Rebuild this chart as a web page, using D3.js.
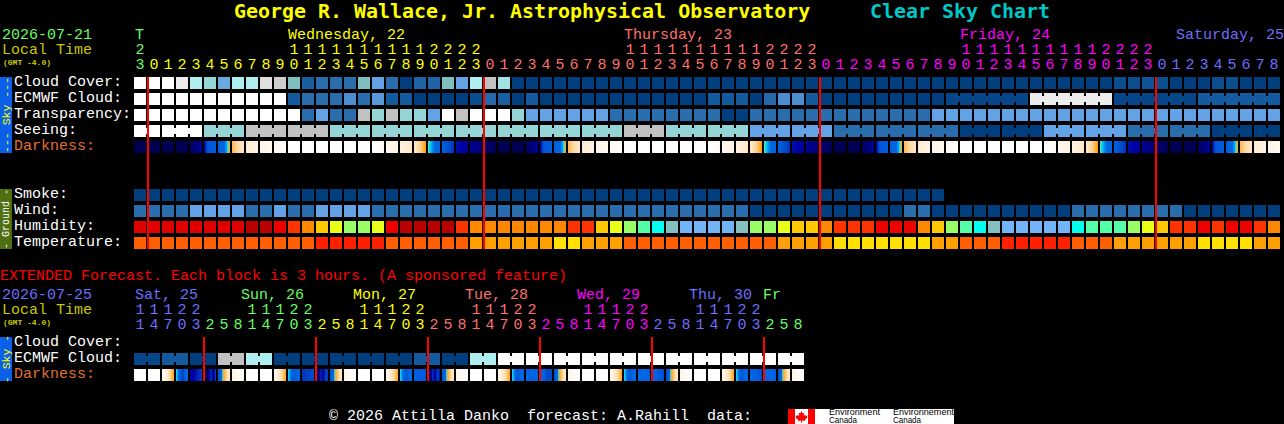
<!DOCTYPE html>
<html><head><meta charset="utf-8">
<script src="https://cdn.jsdelivr.net/npm/d3@7/dist/d3.min.js"></script>
<style>
html,body{margin:0;padding:0;background:#000;overflow:hidden}
svg{display:block}
text{font-family:"Liberation Mono",monospace;font-size:15px;white-space:pre}
</style></head><body><svg id="c" width="1284" height="424"></svg>
<script>
// ---------- data ----------
const hours=[23,0,1,2,3,4,5,6,7,8,9,10,11,12,13,14,15,16,17,18,19,20,21,22,23,0,1,2,3,4,5,6,7,8,9,10,11,12,13,14,15,16,17,18,19,20,21,22,23,0,1,2,3,4,5,6,7,8,9,10,11,12,13,14,15,16,17,18,19,20,21,22,23,0,1,2,3,4,5,6,7,8];
const extHours=[11,14,17,20,23,2,5,8,11,14,17,20,23,2,5,8,11,14,17,20,23,2,5,8,11,14,17,20,23,2,5,8,11,14,17,20,23,2,5,8,11,14,17,20,23,2,5,8];
const dayLabels=[["Wednesday, 22",288,1],["Thursday, 23",624,2],["Friday, 24",960,3],["Saturday, 25",1176,4]];
const extDayLabels=[["Sat, 25",135,0],["Sun, 26",241,1],["Mon, 27",353,2],["Tue, 28",465,3],["Wed, 29",577,4],["Thu, 30",689,5],["Fr",763,6]];
const dayColors=["#66ff66","#ffff00","#ff7070","#ff00ff","#6e6eff"];
const extDayColors=["#6e6eff","#66ff66","#ffff00","#ff7070","#ff00ff","#6e6eff","#66ff66"];

const cloud=[100,100,100,90,70,60,42,70,70,87,83,50,12,20,20,20,50,40,20,0,15,15,50,40,70,80,65,
 0,0,0,0,0,0,0,0,0,0,0,0,0,0,0,0,0,0,0,0,0,0,0,0,0,0,0,0,0,0,0,0,0,0,0,0,0,0,0,0,0,0,0,
 6,6,8,6,0,0,0,6,6,0,0,0];
const ecmwf=[100,100,100,100,100,100,100,100,100,100,100,10,20,20,20,30,20,35,10,10,0,0,0,0,5,18,12,0,10,
 0,0,0,0,0,0,0,0,0,0,0,0,10,10,10,0,18,30,30,10,0,0,0,0,0,0,0,0,0,
 3,3,3,3,3,3,90,90,90,90,90,90,3,3,3,3,3,3,10,10,10,10,10,10];
const ecmwfJoinedStarts=[58,64,70,76];
const transparency=[100,100,100,100,100,100,100,100,100,100,100,100,20,40,20,20,80,60,80,60,60,40,100,80,100,100,100,60,
 40,40,40,40,40,40,20,20,20,20,20,20,20,20,0,0,20,20,20,20,20,20,20,20,20,20,20,20,20,
 40,40,40,40,40,40,40,40,40,40,40,40,40,40,40,40,40,40,40,40,40,40,40,40,40];
const seeingStarts=[0,2,5,8,11,14,17,20,23,26,29,32,35,38,41,44,47,50,53,56,59,62,65,68,71,74,77,80];
const seeingValues=[100,100,60,80,80,60,60,60,60,60,60,60,80,60,60,40,40,20,20,20,0,0,40,40,20,20,0,0];
const smoke=[0,0,0,0,0,0,0,0,0,0,0,0,0,0,0,0,0,0,0,0,0,0,0,0,0,0,0,0,0,0,0,0,0,0,0,0,0,0,0,0,0,0,0,0,0,0,0,0,0,0,0,0,0,0,0,0,0,0];
const wind=[20,20,20,20,40,40,40,40,20,20,40,20,20,40,40,40,40,20,20,20,20,
 20,20,20,20,20,20,20,20,20,20,20,20,20,20,20,20,20,20,20,20,20,20,20,
 0,0,0,0,0,0,0,0,0,0,0,20,20,0,0,0,0,0,0,0,0,0,0,
 20,20,20,20,20,20,20,20,0,0,0,0,0,0,0];
const humidityColors={a:"#e00000",d:"#b80000",e:"#ec0000",r:"#ff3300",o:"#ff8800",y:"#ffc800",l:"#e8ff18",g:"#99ff66",m:"#55ffaa",c:"#00ffee",t:"#85c0c0",b:"#72b4f5"};
const humidity=["a","a","a","a","a","a","a","a","d","d","e","r","o","y","l","g","g","l","e","d","d","d","d","r","o","o","o","o","o","o","o","r","r","y","l","g","m","c","t","b","b","b","b","t","g","g","l","y","y","o","r","r","r","e","e","e","o","y","g","m","c","t","b","b","b","b","b","c","m","m","m","g","l","y","r","r","e","r","e","e","r","o"];
const tempColors={r:"#ff2000",o:"#ff5f00",a:"#ffa000",y:"#ffe000"};
const temperature=["o","o","o","o","o","o","o","o","o","o","o","o","o","r","r","r","r","r","o","o","o","o","o","o","a","a","a","a","a","a","y","y","a","a","a","o","o","o","o","o","o","o","o","o","o","o","a","a","a","a","y","y","y","y","y","y","y","a","a","o","o","o","r","r","r","r","r","o","o","o","a","a","a","a","a","a","y","y","y","y","a","a"];
// darkness: position along the twilight ramp (0 day .. 1 night) across each block
const darkness=[[1,1],[1,1],[1,1],[1,1],[.98,.85],[.8,.6,.58,.56],[.55,.365],[.34,.24],[.22,.14],[.14,.08],[.08,.02],
 [0,0],[0,0],[0,0],[0,0],[0,0],[0,0],[0,.08],[.1,.16],[.16,.24],[.24,.37],[.385,.5],[.55,.72],[.78,.82],[.85,.92],[.94,.98],[1,1],[1,1],
 [.98,.85],[.8,.6,.58,.56],[.55,.365],[.34,.24],[.22,.14],[.14,.08],[.08,.02],
 [0,0],[0,0],[0,0],[0,0],[0,0],[0,0],[0,.08],[.1,.16],[.16,.24],[.24,.37],[.385,.5],[.55,.72],[.78,.82],[.85,.92],[.94,.98],[1,1],[1,1],
 [.98,.85],[.8,.6,.58,.56],[.55,.365],[.34,.24],[.22,.14],[.14,.08],[.08,.02],
 [0,0],[0,0],[0,0],[0,0],[0,0],[0,0],[0,.08],[.1,.16],[.16,.24],[.24,.37],[.385,.5],[.55,.72],[.78,.82],[.85,.92],[.94,.98],[1,1],[1,1],
 [.98,.85],[.8,.6,.58,.56],[.55,.365],[.34,.24],[.22,.14],[.14,.08]];
const extEcmwf=[3,10,0,80,70,0,0,0,0,0,10,0,70,100,100,100,100,100,100,100,100,100,100,100];
const extDarkness=[[0,0],[0,.04],[.05,.16,.3,.36],[.4,.45,.6,.7,.5,.45],[.82,.8,.75,.7],[.95,1,.85,.7,.9,.7],[.6,.5,.37,.34,.28,.22],[.16,.08,.02],
 [0,0],[0,.02],[.1,.2,.3,.36],[.4,.45,.6,.45,.45],[.72,.7,.68,.65],[.85,.95,.72,.85,.7,.7],[.6,.5,.37,.34,.28,.22],[.14,.06,.02],
 [0,0],[0,0],[.1,.2,.3,.36],[.4,.45,.65,.45,.45],[.55,.55,.55,.6],[.75,.95,.7,.85,.7,.75],[.6,.5,.37,.34,.28,.22],[.14,.06,.02],
 [0,0],[0,0],[.1,.2,.3,.36],[.4,.45,.65,.45,.45],[.5,.5,.5,.5],[.5,.5,.55,.68,.65,.68],[.65,.5,.37,.34,.28,.22],[.14,.06,.02],
 [0,0],[0,0],[.1,.2,.3,.36],[.4,.45,.65,.45,.45],[.47,.47,.47,.5],[.47,.47,.48,.6,.6,.65],[.65,.5,.37,.34,.28,.22],[.14,.06,.02],
 [0,0],[0,0],[.1,.2,.3,.36],[.4,.45,.65,.45,.45],[.5,.5,.55,.65],[.47,.47,.47,.47,.55],[.65,.5,.37,.34,.28,.22],[.14,.06,.02]];
const mainDayLines=[1,25,49,73];
const extDayLines=[5,13,21,29,37,45];
const skyRows=["Cloud Cover:","ECMWF Cloud:","Transparency:","Seeing:","Darkness:"];
const groundRows=["Smoke:","Wind:","Humidity:","Temperature:"];
const extRows=["Cloud Cover:","ECMWF Cloud:","Darkness:"];

// ---------- scales ----------
const x=d3.scaleLinear().domain([0,82]).range([134,1282]);
const yMain=d3.scaleLinear().domain([0,1]).range([77,93]);
const yExt=d3.scaleLinear().domain([0,1]).range([337,353]);
const cell=12;
const sky=d3.scaleLinear().domain([0,10,20,30,40,50,60,70,80,90,100])
 .range(["#003e7e","#135a9e","#2a6dad","#4b8dd0","#63a3e5","#7fbfbf","#95d5d5","#aeeeee","#c1c1c1","#ececec","#ffffff"]);
const ramp=d3.scaleLinear().domain([0,.08,.16,.24,.3,.36,.375,.385,.41,.45,.6,.7,.8,.9,1])
 .range(["#ffffff","#fffaf2","#fff2e0","#ffe8c8","#ffd898","#ffa830","#ffa000","#40e8d0","#00b8f4","#0068e4","#0058dc","#0040c0","#0000a8","#000080","#000050"]);

const svg=d3.select("#c");
const gMarks=svg.append("g").attr("shape-rendering","crispEdges");
const gText=svg.append("g");

function row(vals,y,color){
 gMarks.append("g").selectAll("rect").data(vals).join("rect")
  .attr("x",(d,i)=>x(i)).attr("y",y).attr("width",cell).attr("height",cell)
  .attr("fill",color);
}
function joins(cols,y,color){ // connectors between blocks of the same forecast step
 gMarks.append("g").selectAll("rect").data(cols).join("rect")
  .attr("x",d=>x(d[0])+cell).attr("y",y+3).attr("width",x(1)-x(0)-cell).attr("height",6)
  .attr("fill",d=>color(d[1]));
}
function darkRow(data,y){
 const g=gMarks.append("g");
 data.forEach((stops,i)=>{
  const s=d3.scaleLinear().domain(stops.map((_,k)=>k*(cell-1)/(stops.length-1))).range(stops);
  g.append("g").selectAll("rect").data(d3.range(cell)).join("rect")
   .attr("x",p=>x(i)+p).attr("y",y).attr("width",1).attr("height",cell)
   .attr("fill",p=>ramp(s(p)));
 });
}
function lines(cols,y0,y1){
 gMarks.append("g").selectAll("rect").data(cols).join("rect")
  .attr("x",d=>x(d)-1).attr("y",y0).attr("width",2).attr("height",y1-y0).attr("fill","#ff0000");
}
function label(t,px,py,fill,extra){
 const e=gText.append("text").attr("x",px).attr("y",py).attr("fill",fill).text(t);
 if(extra)extra(e);return e;
}

// ---------- main table ----------
row(cloud,yMain(0),d=>sky(d));
row(ecmwf,yMain(1),d=>sky(d));
ecmwfJoinedStarts.forEach(s=>joins(d3.range(s,s+5).filter(c=>c<81).map(c=>[c,ecmwf[c]]),yMain(1),sky));
row(transparency,yMain(2),d=>sky(d));
const seeingCols=d3.range(82).map(c=>seeingValues[d3.bisectRight(seeingStarts,c)-1]);
row(seeingCols,yMain(3),d=>sky(d));
joins(d3.range(81).filter(c=>!seeingStarts.includes(c+1)).map(c=>[c,seeingCols[c]]),yMain(3),sky);
darkRow(darkness,yMain(4));
row(smoke,yMain(7),d=>sky(d));
row(wind,yMain(8),d=>sky(d));
row(humidity,yMain(9),d=>humidityColors[d]);
row(temperature,yMain(10),d=>tempColors[d]);
lines(mainDayLines,77,249);

// ---------- extended table ----------
const extCols=d3.range(48).map(c=>extEcmwf[Math.floor(c/2)]);
row(extCols,yExt(1),d=>sky(d));
joins(d3.range(0,48,2).map(c=>[c,extCols[c]]),yExt(1),sky);
darkRow(extDarkness,yExt(2));
lines(extDayLines,337,381);

// ---------- side bars ----------
const bars=[[77,153,"#0a60e8","--- Sky ---","#ffff00",11.5],[189,249,"#4f6f10","- Ground -","#ffffff",10],[337,381,"#0a60e8","- Sky -","#ffff00",11.5]];
bars.forEach(b=>{
 gMarks.append("rect").attr("x",0).attr("y",b[0]).attr("width",12).attr("height",b[1]-b[0]).attr("fill",b[2]);
 const cy=(b[0]+b[1])/2;
 label(b[3],6,cy,b[4],e=>e.attr("text-anchor","middle").attr("dominant-baseline","central").attr("transform",`rotate(-90 6 ${cy})`).style("font-size",b[5]+"px"));
});

// ---------- texts ----------
const bold=e=>e.style("font-family","'DejaVu Sans Mono',monospace").style("font-weight","bold").style("font-size","19.95px");
label("George R. Wallace, Jr. Astrophysical Observatory",234,18,"#ffff00",bold);
label("Clear Sky Chart",870,18,"#00c8c8",bold);

const tiny=e=>e.style("font-size","8px").style("font-weight","bold");
label("2026-07-21",2,39,"#66ff66");
label("Local Time",2,54,"#c8c800");
label("(GMT -4.0)",3,65,"#c8c800",tiny);
label("T",135,39,"#66ff66");
dayLabels.forEach(d=>label(d[0],d[1],39,dayColors[d[2]]));
let day=0;
hours.forEach((h,i)=>{
 if(i>0&&h===0)day++;
 const c=dayColors[day],px=x(i)+6;
 label(String(h%10),px,69,c,e=>e.attr("text-anchor","middle"));
 if(h>=10)label(String(Math.floor(h/10)),px,54,c,e=>e.attr("text-anchor","middle"));
});
skyRows.forEach((t,i)=>label(t,14,yMain(i)+9,t==="Darkness:"?"#e07030":"#ffffff"));
groundRows.forEach((t,i)=>label(t,14,yMain(i+7)+9,"#ffffff"));

label("EXTENDED Forecast. Each block is 3 hours. (A sponsored feature)",0,280,"#ff0000");
label("2026-07-25",2,299,"#6e6eff");
label("Local Time",2,314,"#c8c800");
label("(GMT -4.0)",3,325,"#c8c800",tiny);
extDayLabels.forEach(d=>label(d[0],d[1],299,extDayColors[d[2]]));
let eDay=0;
extHours.forEach((h,i)=>{
 if(i>0&&h<extHours[i-1])eDay++;
 const c=extDayColors[eDay],px=x(i)+6;
 label(String(h%10),px,329,c,e=>e.attr("text-anchor","middle"));
 if(h>=10)label(String(Math.floor(h/10)),px,314,c,e=>e.attr("text-anchor","middle"));
});
extRows.forEach((t,i)=>label(t,14,yExt(i)+9,t==="Darkness:"?"#e07030":"#ffffff"));

// ---------- footer ----------
label("\u00a9 2026 Attilla Danko  forecast: A.Rahill  data:",329,420,"#ffffff");
const logo=svg.append("g");
logo.append("rect").attr("x",788).attr("y",409).attr("width",166).attr("height",15).attr("fill","#fff");
logo.append("rect").attr("x",788).attr("y",409).attr("width",7).attr("height",15).attr("fill","#ff0000");
logo.append("rect").attr("x",808).attr("y",409).attr("width",7).attr("height",15).attr("fill","#ff0000");
logo.append("path").attr("d","M801.5 411l1.3 2.4 1.5-.7-.6 3 1.6-1 .4 1.2 1.8-.3-.7 1.8.7.4-2.8 2.2.3 1-3 -.4v2.2h-1v-2.2l-3 .4.3-1-2.8-2.2.7-.4-.7-1.8 1.8.3.4-1.2 1.6 1-.6-3 1.5.7z").attr("fill","#ff0000");
[["Environment",829,415,51],["Canada",829,423,28],["Environnement",893,415,61],["Canada",893,423,28]].forEach(t=>{
 logo.append("text").attr("x",t[1]).attr("y",t[2]).attr("fill","#000").attr("textLength",t[3]).attr("lengthAdjust","spacingAndGlyphs").style("font-size","8.5px").style("font-family","Liberation Sans, sans-serif").text(t[0]);
});
</script></body></html>
